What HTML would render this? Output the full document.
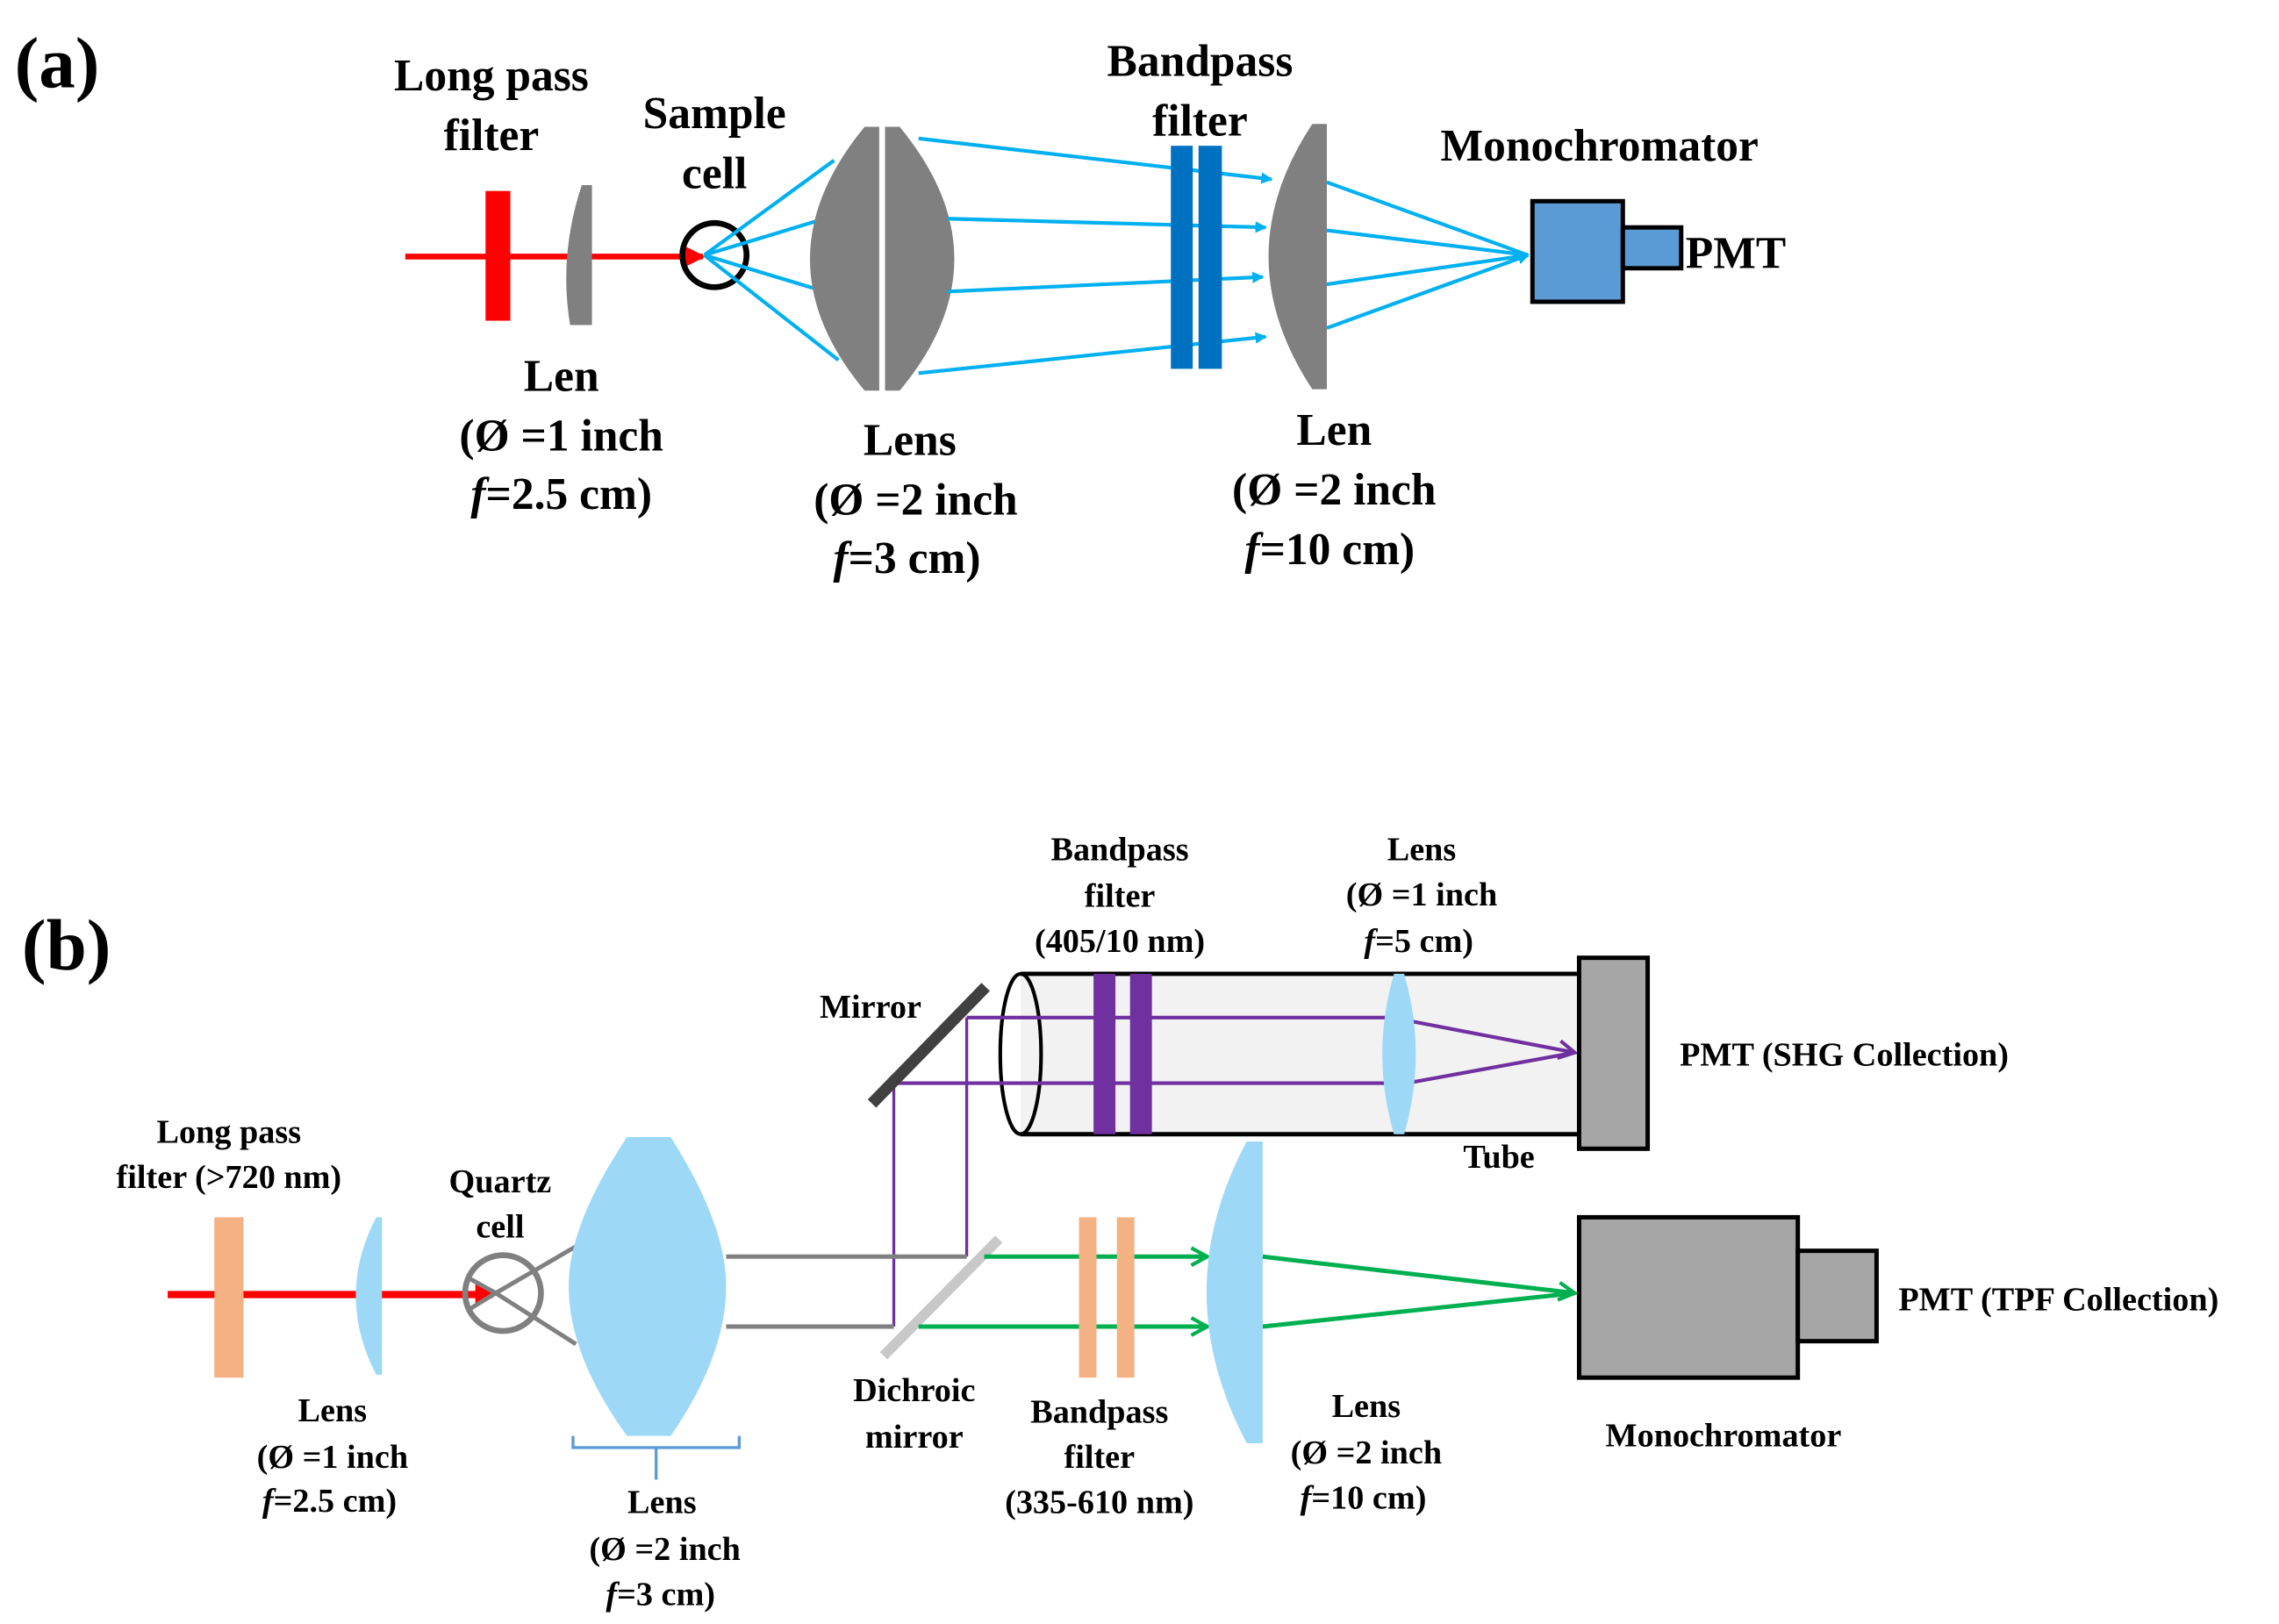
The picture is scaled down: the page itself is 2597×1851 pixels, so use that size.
<!DOCTYPE html>
<html><head><meta charset="utf-8"><style>
html,body{margin:0;padding:0;background:#fff}
svg{display:block}
text{font-family:"Liberation Serif",serif;font-weight:bold;fill:#000}
.a{font-size:31px}
.b{font-size:23px}
</style></head><body>
<svg width="2597" height="1851" viewBox="0 0 1563 1114" preserveAspectRatio="none" xmlns="http://www.w3.org/2000/svg">
<defs>
<marker id="ab" markerWidth="8" markerHeight="8" refX="7" refY="4" orient="auto" markerUnits="userSpaceOnUse"><path d="M0,0 L8,4 L0,8 z" fill="#00b0f0"/></marker>
<marker id="ar" markerWidth="14" markerHeight="14" refX="12" refY="7" orient="auto" markerUnits="userSpaceOnUse"><path d="M0,0 L14,7 L0,14 z" fill="#ff0000"/></marker>
<marker id="ag" markerWidth="14" markerHeight="14" refX="12" refY="7" orient="auto" markerUnits="userSpaceOnUse"><path d="M1,1 L12,7 L1,13" fill="none" stroke="#00b050" stroke-width="2.5"/></marker>
<marker id="ap" markerWidth="14" markerHeight="14" refX="12" refY="7" orient="auto" markerUnits="userSpaceOnUse"><path d="M1,1 L12,7 L1,13" fill="none" stroke="#7030a0" stroke-width="2.5"/></marker>
</defs>

<!-- (a) -->
<text x="10" y="60" style="font-size:50px">(a)</text>
<line x1="278" y1="176" x2="482" y2="176" stroke="#ff0000" stroke-width="4" marker-end="url(#ar)"/>
<rect x="333" y="131" width="17" height="89" fill="#ff0000"/>
<path d="M399,127 Q383,175 391,223 L406,223 L406,127 Z" fill="#808080"/>
<circle cx="490" cy="175" r="22" fill="none" stroke="#000" stroke-width="4"/>
<g stroke="#00b0f0" stroke-width="2.5">
<line x1="483" y1="175" x2="572" y2="110"/>
<line x1="483" y1="175" x2="582" y2="145"/>
<line x1="483" y1="175" x2="582" y2="205"/>
<line x1="483" y1="175" x2="575" y2="247"/>
</g>
<path d="M593,87 Q518,178 593,268 L603,268 L603,87 Z" fill="#808080"/>
<path d="M617,87 Q692,178 617,268 L607,268 L607,87 Z" fill="#808080"/>
<g stroke="#00b0f0" stroke-width="2.5" marker-end="url(#ab)">
<line x1="630" y1="95" x2="872" y2="123"/>
<line x1="650" y1="150" x2="868" y2="156"/>
<line x1="650" y1="200" x2="866" y2="190"/>
<line x1="630" y1="256" x2="868" y2="231"/>
</g>
<rect x="803" y="100" width="15" height="153" fill="#0070c0"/>
<rect x="822" y="100" width="16" height="153" fill="#0070c0"/>
<path d="M900,85 Q840,176 900,267 L910,267 L910,85 Z" fill="#808080"/>
<g stroke="#00b0f0" stroke-width="2.5">
<line x1="910" y1="125" x2="1048" y2="175"/>
<line x1="910" y1="158" x2="1048" y2="175"/>
<line x1="910" y1="195" x2="1048" y2="175"/>
<line x1="910" y1="225" x2="1048" y2="175" marker-end="url(#ab)"/>
</g>
<rect x="1051" y="138" width="62" height="69" fill="#5b9bd5" stroke="#000" stroke-width="3"/>
<rect x="1113" y="156" width="40" height="28" fill="#5b9bd5" stroke="#000" stroke-width="3"/>
<g class="a" text-anchor="middle">
<text x="337" y="62">Long pass</text><text x="337" y="103">filter</text>
<text x="490" y="88">Sample</text><text x="490" y="129">cell</text>
<text x="823" y="52">Bandpass</text><text x="823" y="93">filter</text>
<text x="1097" y="110">Monochromator</text>
<text x="385" y="268">Len</text><text x="385" y="309">(Ø =1 inch</text><text x="385" y="349"><tspan font-style="italic">f</tspan>=2.5 cm)</text>
<text x="624" y="312">Lens</text><text x="628" y="353">(Ø =2 inch</text><text x="622" y="393"><tspan font-style="italic">f</tspan>=3 cm)</text>
<text x="915" y="305">Len</text><text x="915" y="346">(Ø =2 inch</text><text x="912" y="387"><tspan font-style="italic">f</tspan>=10 cm)</text>
</g>
<text class="a" x="1156" y="184">PMT</text>

<!-- (b) -->
<text x="15" y="665" style="font-size:50px">(b)</text>
<rect x="700" y="668" width="383" height="110" fill="#f2f2f2"/>
<line x1="700" y1="668" x2="1083" y2="668" stroke="#000" stroke-width="3"/>
<line x1="700" y1="778" x2="1083" y2="778" stroke="#000" stroke-width="3"/>
<ellipse cx="700" cy="723" rx="14" ry="55" fill="none" stroke="#000" stroke-width="2.5"/>
<rect x="750" y="668" width="15" height="110" fill="#7030a0"/>
<rect x="775" y="668" width="15" height="110" fill="#7030a0"/>
<g stroke="#7030a0" stroke-width="2.5">
<line x1="663" y1="698" x2="955" y2="698"/>
<line x1="613" y1="743" x2="955" y2="743"/>
<line x1="663" y1="862" x2="663" y2="698" stroke-width="2"/>
<line x1="613" y1="910" x2="613" y2="743" stroke-width="2"/>
<line x1="965" y1="700" x2="1080" y2="722" marker-end="url(#ap)"/>
<line x1="965" y1="743" x2="1080" y2="722"/>
</g>
<path d="M956,668 Q940,723 956,778 L963,778 Q979,723 963,668 Z" fill="#9dd9f7"/>
<rect x="1083" y="657" width="47" height="131" fill="#a6a6a6" stroke="#000" stroke-width="3"/>
<line x1="598" y1="757" x2="676" y2="677" stroke="#404040" stroke-width="8"/>

<line x1="115" y1="888" x2="338" y2="888" stroke="#ff0000" stroke-width="5" marker-end="url(#ar)"/>
<rect x="147" y="835" width="20" height="110" fill="#f4b183"/>
<path d="M258,835 Q230,889 258,943 L262,943 L262,835 Z" fill="#9dd9f7"/>
<circle cx="345" cy="887" r="26" fill="none" stroke="#808080" stroke-width="4"/>
<g stroke="#808080" stroke-width="3">
<line x1="340" y1="887" x2="395" y2="855"/>
<line x1="340" y1="887" x2="395" y2="922"/>
<line x1="340" y1="887" x2="322" y2="877"/>
<line x1="340" y1="887" x2="322" y2="898"/>
</g>
<path d="M430,780 L460,780 Q498,840 498,882 Q498,930 460,985 L430,985 Q390,930 390,882 Q390,840 430,780 Z" fill="#9dd9f7"/>
<path d="M393,985 L393,993 L507,993 L507,985 M450,993 L450,1015" fill="none" stroke="#5b9bd5" stroke-width="2"/>
<g stroke="#808080" stroke-width="3">
<line x1="498" y1="862" x2="663" y2="862"/>
<line x1="498" y1="910" x2="613" y2="910"/>
</g>
<line x1="606" y1="930" x2="685" y2="850" stroke="#c8c8c8" stroke-width="7"/>
<g stroke="#00b050" stroke-width="3">
<line x1="675" y1="862" x2="828" y2="862" marker-end="url(#ag)"/>
<line x1="630" y1="910" x2="828" y2="910" marker-end="url(#ag)"/>
<line x1="866" y1="862" x2="1080" y2="887" marker-end="url(#ag)"/>
<line x1="866" y1="910" x2="1080" y2="887"/>
</g>
<rect x="740" y="835" width="12" height="110" fill="#f4b183"/>
<rect x="766" y="835" width="12" height="110" fill="#f4b183"/>
<path d="M855,783 Q800,886 855,990 L866,990 L866,783 Z" fill="#9dd9f7"/>
<rect x="1083" y="835" width="150" height="110" fill="#a6a6a6" stroke="#000" stroke-width="3"/>
<rect x="1233" y="858" width="54" height="62" fill="#a6a6a6" stroke="#000" stroke-width="3"/>

<g class="b" text-anchor="middle">
<text x="768" y="590">Bandpass</text><text x="768" y="622">filter</text><text x="768" y="653">(405/10 nm)</text>
<text x="975" y="590">Lens</text><text x="975" y="621">(Ø =1 inch</text><text x="973" y="653"><tspan font-style="italic">f</tspan>=5 cm)</text>
<text x="597" y="698">Mirror</text>
<text x="1028" y="801">Tube</text>
<text x="157" y="784">Long pass</text><text x="157" y="815">filter (&gt;720 nm)</text>
<text x="343" y="818">Quartz</text><text x="343" y="849">cell</text>
<text x="228" y="975">Lens</text><text x="228" y="1007">(Ø =1 inch</text><text x="226" y="1037"><tspan font-style="italic">f</tspan>=2.5 cm)</text>
<text x="454" y="1038">Lens</text><text x="456" y="1070">(Ø =2 inch</text><text x="453" y="1101"><tspan font-style="italic">f</tspan>=3 cm)</text>
<text x="627" y="961">Dichroic</text><text x="627" y="993">mirror</text>
<text x="754" y="976">Bandpass</text><text x="754" y="1007">filter</text><text x="754" y="1038">(335-610 nm)</text>
<text x="937" y="972">Lens</text><text x="937" y="1004">(Ø =2 inch</text><text x="935" y="1035"><tspan font-style="italic">f</tspan>=10 cm)</text>
<text x="1182" y="992">Monochromator</text>
</g>
<text class="b" x="1152" y="731">PMT (SHG Collection)</text>
<text class="b" x="1302" y="899">PMT (TPF Collection)</text>
</svg>
</body></html>
